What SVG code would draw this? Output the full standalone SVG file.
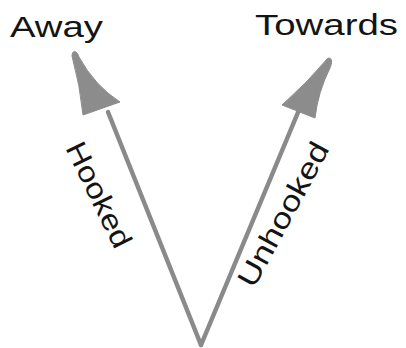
<svg xmlns="http://www.w3.org/2000/svg" width="406" height="348" viewBox="0 0 406 348">
<style>
.lbl{font-family:"Liberation Sans","DejaVu Sans",sans-serif;font-size:29px;fill:#141414}
.shaft{fill:none;stroke:#8a8a8a;stroke-width:4.5;stroke-linecap:round}
.head{fill:#8c8c8c;stroke:#8c8c8c;stroke-width:1;stroke-linejoin:round}
</style>
<rect width="406" height="348" fill="#ffffff"/>
<g id="connectors">
<path class="shaft" d="M201,345 L108,112"/>
<path class="shaft" d="M201,345 L299,110"/>
<path class="head" d="M72,56 C72,50 77,50 79,57 Q95,86 120,102 L83,115 Q80,85 72,56 Z"/>
<path class="head" d="M328,58 C333,58 332,63 330,68 Q318,92 315,118 L282,105 Q306,84 328,58 Z"/>
<text class="lbl" transform="translate(90,199) rotate(64)" text-anchor="middle" textLength="114" lengthAdjust="spacingAndGlyphs">Hooked</text>
<text class="lbl" transform="translate(292,219) rotate(-61.5)" text-anchor="middle" textLength="160" lengthAdjust="spacingAndGlyphs">Unhooked</text>
</g>
<g id="away">
<text class="lbl" x="10" y="37" textLength="93" lengthAdjust="spacingAndGlyphs">Away</text>
</g>
<g id="towards">
<text class="lbl" x="255" y="35" textLength="143" lengthAdjust="spacingAndGlyphs">Towards</text>
</g>
</svg>
